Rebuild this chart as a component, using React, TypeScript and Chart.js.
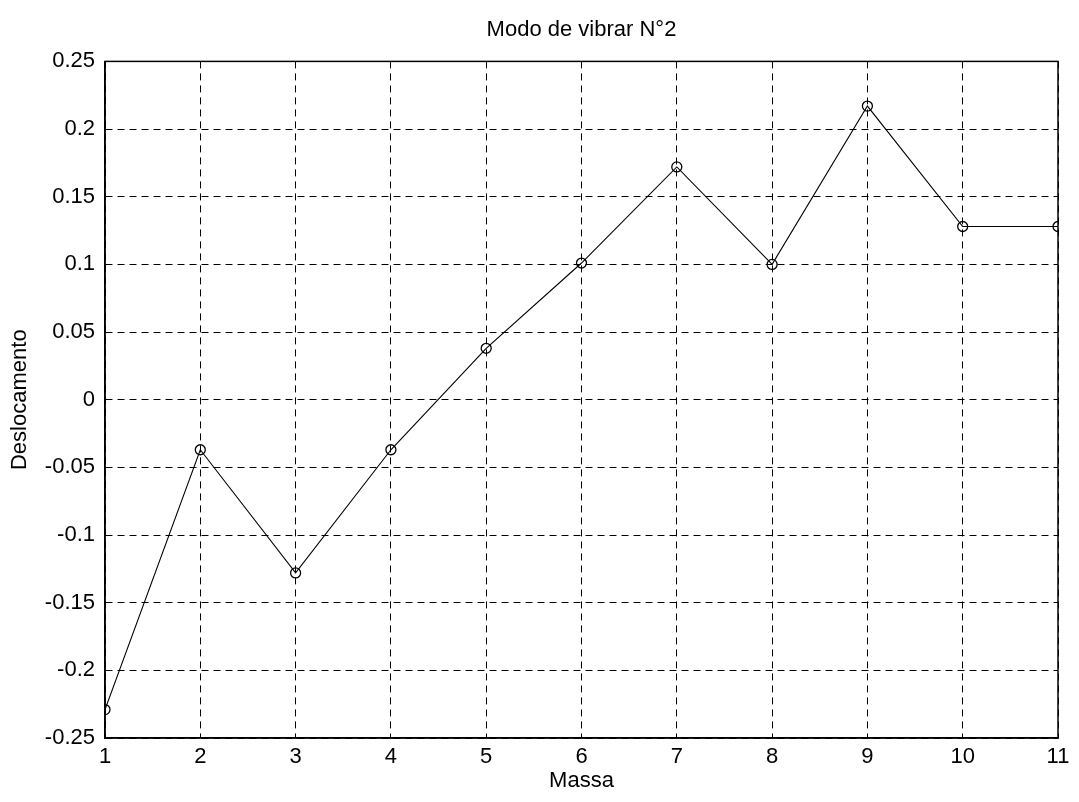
import React, { useEffect, useRef } from 'react';
import { Chart, registerables } from 'chart.js';

Chart.register(...registerables);

const massas = [1, 2, 3, 4, 5, 6, 7, 8, 9, 10, 11];
const deslocamentos = [-0.229, -0.037, -0.128, -0.037, 0.038, 0.101, 0.172, 0.1, 0.217, 0.128, 0.128];
const xTickValues = [1, 2, 3, 4, 5, 6, 7, 8, 9, 10, 11];
const xTickLabels = ['1', '2', '3', '4', '5', '6', '7', '8', '9', '10', '11'];
const yTickValues = [-0.25, -0.2, -0.15, -0.1, -0.05, 0, 0.05, 0.1, 0.15, 0.2, 0.25];
const yTickLabels = ['-0.25', '-0.2', '-0.15', '-0.1', '-0.05', '0', '0.05', '0.1', '0.15', '0.2', '0.25'];
const titleText = 'Modo de vibrar N°2';
const xTitle = 'Massa';
const yTitle = 'Deslocamento';

const FONT = "'Liberation Sans', Arial, Helvetica, sans-serif";

const boxPlugin = {
  id: 'boxPlugin',
  afterDatasetsDraw(chart: any) {
    const { ctx, chartArea } = chart;
    ctx.save();
    ctx.strokeStyle = '#000';
    ctx.lineWidth = 1.5;
    ctx.setLineDash([]);
    ctx.strokeRect(chartArea.left, chartArea.top, chartArea.right - chartArea.left, chartArea.bottom - chartArea.top);
    ctx.restore();
  },
};

export default function App() {
  const canvasRef = useRef<HTMLCanvasElement | null>(null);

  useEffect(() => {
    if (!canvasRef.current) return;
    Chart.defaults.color = '#000';
    Chart.defaults.font.family = FONT;
    const chart = new Chart(canvasRef.current, {
      type: 'line',
      data: {
        datasets: [
          {
            label: 'Modo 2',
            data: massas.map((m, i) => ({ x: m, y: deslocamentos[i] })),
            borderColor: '#000',
            borderWidth: 1.1,
            pointStyle: 'circle',
            pointRadius: 5,
            pointBorderWidth: 1.3,
            pointBorderColor: '#000',
            pointBackgroundColor: 'rgba(0,0,0,0)',
            tension: 0,
            fill: false,
          },
        ],
      },
      options: {
        responsive: false,
        animation: false,
        layout: { padding: { left: 0, right: 21, top: 0, bottom: 0 } },
        plugins: {
          legend: { display: false },
          tooltip: { enabled: false },
          title: {
            display: true,
            fullSize: false,
            text: titleText,
            color: '#000',
            font: { family: FONT, size: 22, weight: 'normal' },
            padding: { top: 17, bottom: 18 },
          },
        },
        scales: {
          x: {
            type: 'linear',
            min: 1,
            max: 11,
            afterFit: (scale: any) => {
              scale.height = 64;
            },
            afterBuildTicks: (scale: any) => {
              scale.ticks = xTickValues.map((v) => ({ value: v }));
            },
            ticks: {
              autoSkip: false,
              maxRotation: 0,
              padding: 6,
              color: '#000',
              font: { family: FONT, size: 22 },
              callback: (_v: any, i: number) => xTickLabels[i],
            },
            grid: { color: '#000', lineWidth: 1, drawTicks: false },
            border: { display: true, color: '#000', width: 1.5, dash: [7, 5] },
            title: {
              display: true,
              text: xTitle,
              color: '#000',
              font: { family: FONT, size: 22 },
              padding: { top: 0, bottom: 8 },
            },
          },
          y: {
            type: 'linear',
            min: -0.25,
            max: 0.25,
            afterFit: (scale: any) => {
              scale.width = 105;
            },
            afterBuildTicks: (scale: any) => {
              scale.ticks = yTickValues.map((v) => ({ value: v }));
            },
            ticks: {
              autoSkip: false,
              padding: 10,
              color: '#000',
              font: { family: FONT, size: 22 },
              callback: (_v: any, i: number) => yTickLabels[i],
            },
            grid: { color: '#000', lineWidth: 1, drawTicks: false },
            border: { display: true, color: '#000', width: 1.5, dash: [7, 5] },
            title: {
              display: true,
              text: yTitle,
              color: '#000',
              font: { family: FONT, size: 22 },
              padding: { top: 7, bottom: 0 },
            },
          },
        },
      },
      plugins: [boxPlugin],
    });
    return () => chart.destroy();
  }, []);

  return (
    <div style={{ position: 'fixed', left: 0, top: 0, width: 1079, height: 802, background: '#fff' }}>
      <canvas ref={canvasRef} width={1079} height={802} style={{ display: 'block' }} />
    </div>
  );
}
